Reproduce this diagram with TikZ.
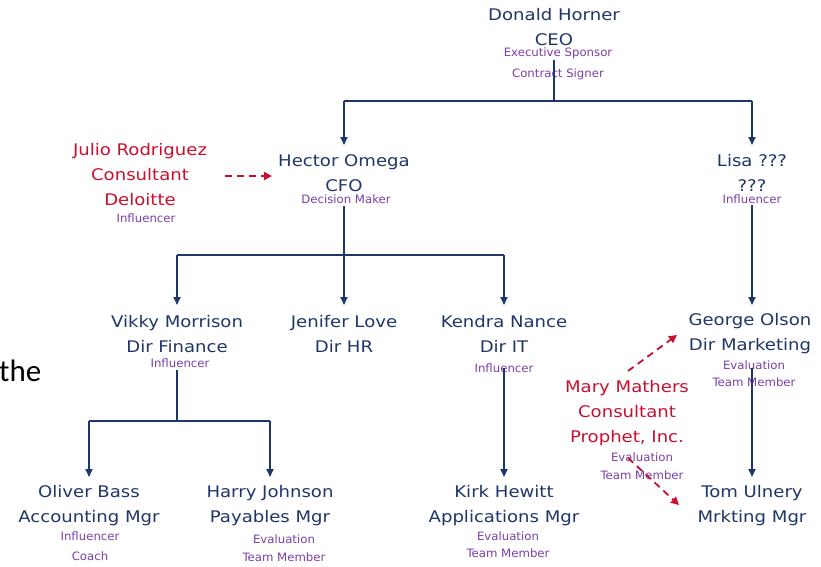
\documentclass[tikz,border=0pt]{standalone}
\usepackage{fontspec}
\setmainfont{DejaVu Sans}
\newfontfamily\namefont[FakeStretch=1.13]{DejaVu Sans}
\newfontfamily\rolefont[FakeStretch=1.02]{DejaVu Sans}
\newfontfamily\thefont{Carlito}
\usetikzlibrary{arrows.meta}
\definecolor{navy}{HTML}{1F3668}
\definecolor{rolepurple}{HTML}{7A3FA8}
\definecolor{consred}{HTML}{C8102E}
\tikzset{
  person/.style={text=navy, align=center, inner sep=0pt, font=\namefont\fontsize{16}{25}\selectfont},
  consultant/.style={text=consred, align=center, inner sep=0pt, font=\namefont\fontsize{16}{25}\selectfont},
  role/.style={text=rolepurple, align=center, inner sep=0pt, font=\rolefont\fontsize{11.5}{18}\selectfont},
  tree/.style={draw=navy, line width=1.8pt},
  treearrow/.style={tree, -{Triangle[length=8pt,width=7pt]}},
  dasharrow/.style={draw=consred, line width=1.8pt, dash pattern=on 7pt off 5pt, -{Triangle[length=8pt,width=8pt]}}
}
\begin{document}
\begin{tikzpicture}[x=1pt,y=-1pt]
\useasboundingbox (0,0) rectangle (821,566);

% stray text fragment
\node[anchor=base west, inner sep=0pt, font=\thefont\fontsize{31}{31}\selectfont] (frag) at (-1,381) {the};

% people
\node[person] (dh) at (554,27) {Donald Horner\\CEO};
\node[role, font=\rolefont\fontsize{11.5}{21}\selectfont] (dhr) at (558,64) {Executive Sponsor\\Contract Signer};

\node[person] (ho) at (344,173) {Hector Omega\\CFO};
\node[role] (hor) at (346,199) {Decision Maker};

\node[consultant] (jr) at (140,175) {Julio Rodriguez\\Consultant\\Deloitte};
\node[role] (jrr) at (146,218) {Influencer};

\node[person] (li) at (752,173) {Lisa ???\\???};
\node[role] (lir) at (752,199) {Influencer};

\node[person] (vm) at (177,334) {Vikky Morrison\\Dir Finance};
\node[role] (vmr) at (180,363) {Influencer};

\node[person] (jl) at (344,334) {Jenifer Love\\Dir HR};

\node[person] (kn) at (504,334) {Kendra Nance\\Dir IT};
\node[role] (knr) at (504,368) {Influencer};

\node[person] (go) at (750,334) {George Olson\\Dir Marketing};
\node[role, font=\rolefont\fontsize{11.5}{17}\selectfont] (gor) at (754,374) {Evaluation\\Team Member};

\node[consultant] (mm) at (627,413) {Mary Mathers\\Consultant\\Prophet, Inc.};
\node[role] (mmr) at (642,466) {Evaluation\\Team Member};

\node[person] (ob) at (89,506) {Oliver Bass\\Accounting Mgr};
\node[role, font=\rolefont\fontsize{11.5}{20}\selectfont] (obr) at (90,546) {Influencer\\Coach};

\node[person] (hj) at (270,506) {Harry Johnson\\Payables Mgr};
\node[role] (hjr) at (284,548) {Evaluation\\Team Member};

\node[person] (kh) at (504,506) {Kirk Hewitt\\Applications Mgr};
\node[role, font=\rolefont\fontsize{11.5}{17}\selectfont] (khr) at (508,545) {Evaluation\\Team Member};

\node[person] (tu) at (752,506) {Tom Ulnery\\Mrkting Mgr};

% connector coordinates
\coordinate (dh-out) at (554,60);
\coordinate (dh-bus) at (554,101);
\coordinate (dh-l) at (344,101);
\coordinate (dh-r) at (752,101);
\coordinate (ho-in) at (344,145);
\coordinate (li-in) at (752,145);

\coordinate (ho-out) at (344,206);
\coordinate (ho-bus) at (344,255);
\coordinate (ho-l) at (177,255);
\coordinate (ho-r) at (504,255);
\coordinate (vm-in) at (177,305);
\coordinate (jl-in) at (344,305);
\coordinate (kn-in) at (504,305);

\coordinate (li-out) at (752,205);
\coordinate (go-in) at (752,305);

\coordinate (vm-out) at (177,370);
\coordinate (vm-bus) at (177,421);
\coordinate (vm-l) at (89,421);
\coordinate (vm-r) at (270,421);
\coordinate (ob-in) at (89,477);
\coordinate (hj-in) at (270,477);

\coordinate (kn-out) at (504,368);
\coordinate (kh-in) at (504,477);
\coordinate (go-out) at (752,368);
\coordinate (tu-in) at (752,477);

\coordinate (jr-out) at (225,176);
\coordinate (jr-to) at (272,176);
\coordinate (mm-up) at (628,371);
\coordinate (mm-upto) at (677,335);
\coordinate (mm-down) at (628,458);
\coordinate (mm-downto) at (679,505);

% tree lines
\draw[tree] (dh-out) -- (dh-bus);
\draw[tree] (dh-l) -- (dh-r);
\draw[treearrow] (dh-l) -- (ho-in);
\draw[treearrow] (dh-r) -- (li-in);

\draw[tree] (ho-out) -- (ho-bus);
\draw[tree] (ho-l) -- (ho-r);
\draw[treearrow] (ho-l) -- (vm-in);
\draw[treearrow] (ho-bus) -- (jl-in);
\draw[treearrow] (ho-r) -- (kn-in);

\draw[treearrow] (li-out) -- (go-in);

\draw[tree] (vm-out) -- (vm-bus);
\draw[tree] (vm-l) -- (vm-r);
\draw[treearrow] (vm-l) -- (ob-in);
\draw[treearrow] (vm-r) -- (hj-in);

\draw[treearrow] (kn-out) -- (kh-in);
\draw[treearrow] (go-out) -- (tu-in);

% consultant influence
\draw[dasharrow] (jr-out) -- (jr-to);
\draw[dasharrow] (mm-up) -- (mm-upto);
\draw[dasharrow] (mm-down) -- (mm-downto);
\end{tikzpicture}
\end{document}
